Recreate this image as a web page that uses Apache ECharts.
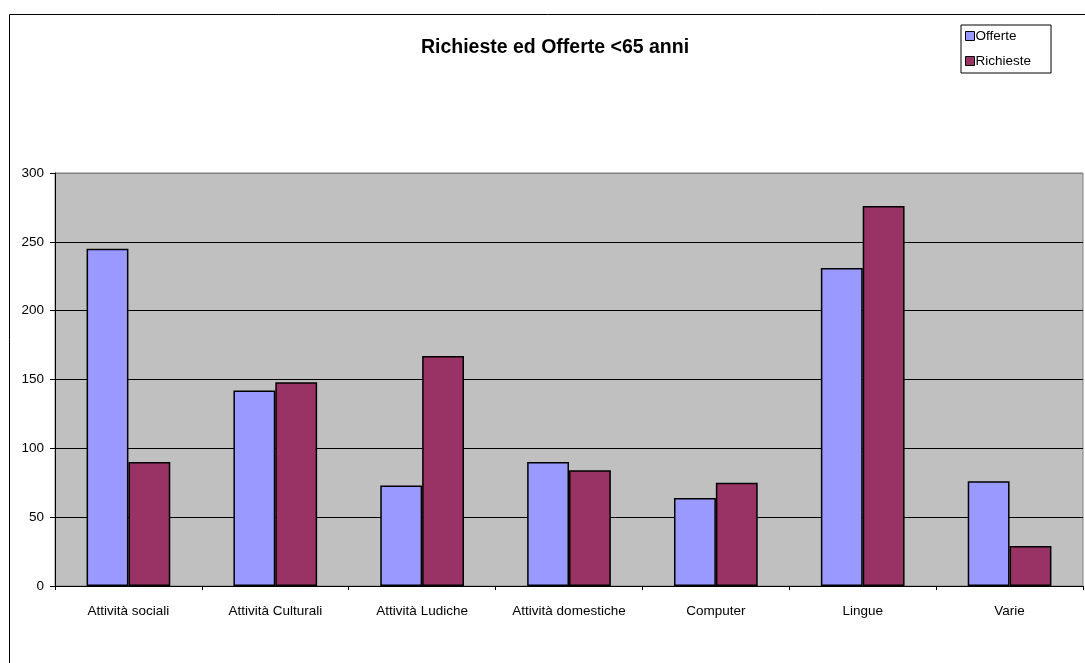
<!DOCTYPE html>
<html>
<head>
<meta charset="utf-8">
<script src="https://cdn.jsdelivr.net/npm/echarts@6/dist/echarts.min.js"></script>
<style>
html,body{margin:0;padding:0;background:#fff;}
#chart{width:1085px;height:663px;}
</style>
</head>
<body>
<div id="chart"></div>
<script>
var categories = ['Attività sociali', 'Attività Culturali', 'Attività Ludiche', 'Attività domestiche', 'Computer', 'Lingue', 'Varie'];
var offerte = [245, 142, 73, 90, 64, 231, 76];
var richieste = [90, 148, 167, 84, 75, 276, 29];
var yTicks = [0, 50, 100, 150, 200, 250, 300];

var FONT = 'Liberation Sans, Arial, sans-serif';
var chart = echarts.init(document.getElementById('chart'), null, {renderer: 'canvas'});
chart.setOption({
  animation: false,
  backgroundColor: '#ffffff',
  title: {
    text: 'Richieste ed Offerte <65 anni',
    left: 550,
    top: 33,
    textAlign: 'center',
    textStyle: {fontFamily: FONT, fontWeight: 'bold', fontSize: 19.5, color: '#000'}
  },
  legend: {
    orient: 'vertical',
    left: 961,
    top: 25,
    itemWidth: 9,
    itemHeight: 9,
    itemGap: 9,
    padding: [3, 20, 4, 4],
    borderColor: '#000',
    borderWidth: 1,
    icon: 'rect',
    itemStyle: {borderColor: '#000', borderWidth: 1},
    textStyle: {fontFamily: FONT, fontSize: 13.5, color: '#000', padding: [0, 0, 0, -4], lineHeight: 16},
    data: ['Offerte', 'Richieste']
  },
  graphic: [{
    type: 'rect',
    left: 7,
    top: 12,
    shape: {width: 1100, height: 700},
    style: {fill: 'none', stroke: '#000', lineWidth: 1},
    silent: true,
    z: 100
  }],
  grid: {
    left: 55,
    right: 2,
    top: 173,
    bottom: 77,
    show: true,
    backgroundColor: '#C0C0C0',
    borderColor: '#808080',
    borderWidth: 1,
    containLabel: false
  },
  xAxis: {
    type: 'category',
    data: categories,
    axisLine: {show: true, lineStyle: {color: '#000', width: 1}},
    axisTick: {show: true, length: 4, lineStyle: {color: '#000'}},
    axisLabel: {fontFamily: FONT, fontSize: 13.5, color: '#000', margin: 18, interval: 0},
    splitLine: {show: false}
  },
  yAxis: {
    type: 'value',
    min: yTicks[0],
    max: yTicks[yTicks.length - 1],
    interval: 50,
    axisLine: {show: true, lineStyle: {color: '#000', width: 1}},
    axisTick: {show: true, length: 5, lineStyle: {color: '#000'}},
    axisLabel: {fontFamily: FONT, fontSize: 13.5, color: '#000', margin: 11},
    splitLine: {show: true, lineStyle: {color: ['#000', '#000', '#000', '#000', '#000', '#000', '#808080'], width: 1}}
  },
  series: [{
    name: 'Offerte',
    type: 'bar',
    data: offerte,
    barGap: '0%',
    barCategoryGap: '43%',
    itemStyle: {color: '#9999FF', borderColor: '#000', borderWidth: 1.5}
  }, {
    name: 'Richieste',
    type: 'bar',
    data: richieste,
    barGap: '0%',
    barCategoryGap: '43%',
    itemStyle: {color: '#993366', borderColor: '#000', borderWidth: 1.5}
  }]
});
</script>
</body>
</html>
